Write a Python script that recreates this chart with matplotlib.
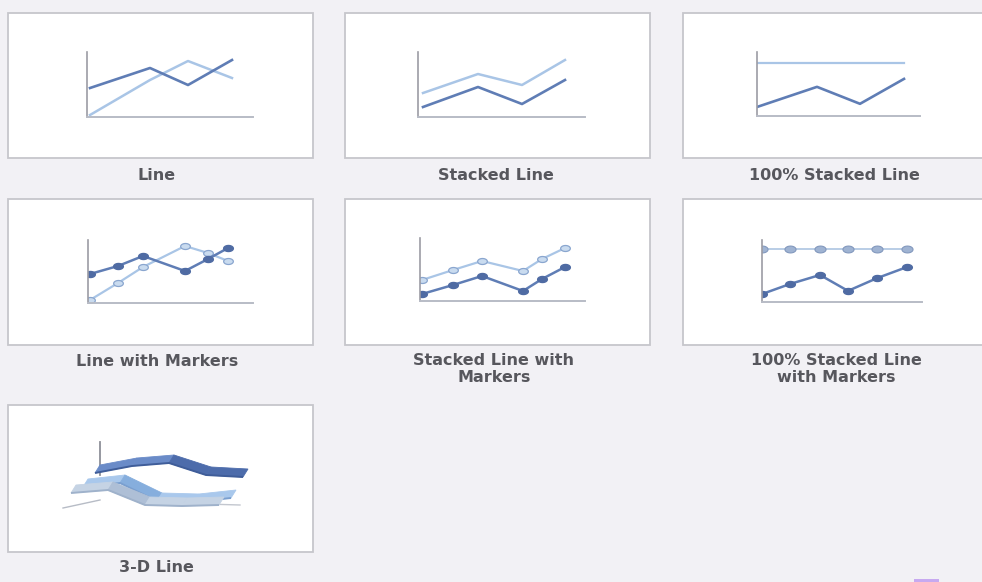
import numpy as np
import matplotlib
matplotlib.use("Agg")
import matplotlib.pyplot as plt
from matplotlib.patches import Rectangle, Polygon
from matplotlib.path import Path

W, H = 982, 582

# ---- gallery captions ----
captions = ["Line", "Stacked Line", "100% Stacked Line",
            "Line with Markers", "Stacked Line with\nMarkers", "100% Stacked Line\nwith Markers",
            "3-D Line"]

# ---- Line ----
line_x = [3, 63, 101, 145]
line_a = [29, 49, 32, 57]
line_b = [2, 37, 56, 39]

# ---- Stacked Line ----
stk_x = [5, 60, 104, 147]
stk_a = [10, 30, 13, 37]
stk_b = [14, 13, 19, 20]

# ---- 100% Stacked Line ----
pct_x = [0, 60, 103, 147]
pct_a = [0.17, 0.55, 0.23, 0.70]

# ---- Line with Markers ----
mk_x = [2, 30, 55, 97, 120, 140]
mk_a = [29, 37, 47, 32, 44, 55]
mk_b = [3, 20, 36, 57, 50, 42]

# ---- Stacked Line with Markers ----
smk_x = [2, 33, 62, 103, 122, 145]
smk_a = [7, 16, 25, 10, 22, 34]
smk_b = [14, 15, 15, 20, 20, 19]

# ---- 100% Stacked Line with Markers ----
pmk_x = [0, 28, 58, 86, 115, 145]
pmk_a = [0.15, 0.34, 0.51, 0.21, 0.45, 0.66]

# ---- 3-D Line (three series, back to front) ----
d3_cat = [0, 1, 2, 3, 4]
d3_s0 = [22, 29, 32, 20, 18]
d3_s1 = [16, 20, 2, 1, 5]
d3_s2 = [18, 21, 6, 5, 6]

DARK = "#5f7db5"
DARK_MK = "#4f6ba3"
LIGHT = "#a9c5e6"
LIGHT_MK = "#c9dbef"
AXIS = "#9c9ca4"
AXIS_H = "#b8bcc6"
TEXT = "#3c3c42"

# wide oval marker
_t = np.linspace(0, 2 * np.pi, 25)
OVAL = Path(np.column_stack([np.cos(_t), 0.62 * np.sin(_t)]), closed=True)

fig = plt.figure(figsize=(W / 100, H / 100), dpi=100)
fig.patch.set_facecolor("#f2f1f5")

bg = fig.add_axes([0, 0, 1, 1])
bg.set_xlim(0, W)
bg.set_ylim(H, 0)
bg.axis("off")

# panel frames (x0, y0, x1, y1)
frames = [(8, 13, 313, 158), (345, 13, 650, 158), (683, 13, 990, 158),
          (8, 199, 313, 345), (345, 199, 650, 345), (683, 199, 990, 345),
          (8, 405, 313, 552)]
for x0, y0, x1, y1 in frames:
    bg.add_patch(Rectangle((x0, y0), x1 - x0, y1 - y0, facecolor="white",
                           edgecolor="#c6c6cb", linewidth=1.3))

cap_pos = [(157, 175), (496, 175), (834, 175),
           (157, 362), (494, 369), (836, 369),
           (156, 567)]
for txt, (cx, cy) in zip(captions, cap_pos):
    bg.text(cx, cy, txt, ha="center", va="center", fontsize=11.5,
            fontweight="bold", color=TEXT, family="DejaVu Sans",
            linespacing=1.15, alpha=0.85)

# small scroll indicator at the bottom edge
bg.add_patch(Rectangle((914, 579), 25, 3, facecolor="#c7a9f0", edgecolor="none"))


def mini(x0, y0, x1, y1, ytop):
    ax = fig.add_axes([x0 / W, 1 - y1 / H, (x1 - x0) / W, (y1 - y0) / H])
    ax.set_xlim(0, x1 - x0)
    ax.set_ylim(0, ytop)
    ax.set_facecolor("none")
    for s in ("top", "right"):
        ax.spines[s].set_visible(False)
    ax.spines["left"].set_color(AXIS)
    ax.spines["left"].set_linewidth(1.2)
    ax.spines["bottom"].set_color(AXIS_H)
    ax.spines["bottom"].set_linewidth(1.4)
    ax.set_xticks([])
    ax.set_yticks([])
    return ax


# Line
ax = mini(87, 52, 253, 117, 65)
ax.plot(line_x, line_b, color=LIGHT, lw=1.8, solid_joinstyle="round")
ax.plot(line_x, line_a, color=DARK, lw=1.9, solid_joinstyle="round")

# Stacked Line
ax = mini(418, 52, 585, 117, 65)
top = np.array(stk_a) + np.array(stk_b)
ax.plot(stk_x, top, color=LIGHT, lw=1.8)
ax.plot(stk_x, stk_a, color=DARK, lw=1.9)

# 100% Stacked Line
ax = mini(757, 52, 920, 116, 64 / 53)
ax.plot(pct_x, np.array(pct_a) + (1 - np.array(pct_a)), color=LIGHT, lw=1.6)
ax.plot(pct_x, pct_a, color=DARK, lw=1.9)

# Line with Markers
ax = mini(88, 240, 253, 303, 63)
ax.plot(mk_x, mk_b, color=LIGHT, lw=1.6, marker=OVAL, ms=7,
        mfc=LIGHT_MK, mec="#8aa6cf", mew=0.9)
ax.plot(mk_x, mk_a, color=DARK, lw=1.8, marker=OVAL, ms=7,
        mfc=DARK_MK, mec=DARK_MK)

# Stacked Line with Markers
ax = mini(420, 238, 585, 301, 63)
top = np.array(smk_a) + np.array(smk_b)
ax.plot(smk_x, top, color=LIGHT, lw=1.6, marker=OVAL, ms=7,
        mfc=LIGHT_MK, mec="#8aa6cf", mew=0.9)
ax.plot(smk_x, smk_a, color=DARK, lw=1.8, marker=OVAL, ms=7,
        mfc=DARK_MK, mec=DARK_MK)

# 100% Stacked Line with Markers
ax = mini(762, 240, 922, 302, 62 / 53)
ax.plot(pmk_x, np.array(pmk_a) + (1 - np.array(pmk_a)), color="#b9cde6", lw=1.4,
        marker=OVAL, ms=8, mfc="#9fb3d2", mec="#8298bd", mew=0.8)
ax.plot(pmk_x, pmk_a, color=DARK, lw=1.8, marker=OVAL, ms=7,
        mfc=DARK_MK, mec=DARK_MK)

# 3-D Line
ax = fig.add_axes([55 / W, 1 - 515 / H, 195 / W, 75 / H])
ax.set_xlim(0, 195)
ax.set_ylim(0, 75)
ax.axis("off")

# floor edges and vertical axis
ax.plot([8, 45], [7, 15], color="#b7bcc6", lw=1.0)
ax.plot([150, 185], [11, 10], color="#c3c7cf", lw=1.0)
ax.plot([45, 45], [40, 73], color="#8e9098", lw=1.3, zorder=1)


def ribbon(vals, s, face_up, face_down, edge):
    xs = 40 + 37 * np.array(d3_cat, dtype=float) - 12 * s
    ys = 20 - 8 * s + np.array(vals, dtype=float)
    dx, dy = 5, 8
    for i in range(len(xs) - 1):
        slope = ys[i + 1] - ys[i]
        col = face_up if slope >= -1 else face_down
        quad = [(xs[i], ys[i]), (xs[i + 1], ys[i + 1]),
                (xs[i + 1] + dx, ys[i + 1] + dy), (xs[i] + dx, ys[i] + dy)]
        ax.add_patch(Polygon(quad, closed=True, facecolor=col, edgecolor=col,
                             linewidth=0.6, zorder=2 + s))
    ax.plot(xs, ys, color=edge, lw=1.4, zorder=2 + s, solid_capstyle="butt")


ribbon(d3_s0, 0, "#6a8bc8", "#4d6cab", "#3f5d99")
ribbon(d3_s1, 1, "#a9c8ec", "#86aedd", "#7a9fcf")
ribbon(d3_s2, 2, "#c5d3e4", "#aebfd6", "#9fb2cb")

fig.savefig("out.png", dpi=100, facecolor=fig.get_facecolor())
